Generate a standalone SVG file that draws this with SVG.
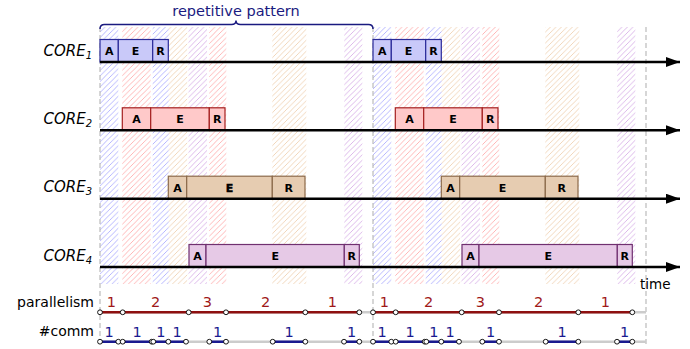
<svg xmlns="http://www.w3.org/2000/svg" width="690" height="349" viewBox="0 0 690 349">
<style>
text{font-family:"DejaVu Sans","Liberation Sans",sans-serif}
.core{font-style:italic;font-size:15px;fill:#000}
.bx{font-size:11px;font-weight:bold;text-anchor:middle;fill:#000}
.c1{fill:#c9c9f9;stroke:#2b2b99;stroke-width:1.2}
.c2{fill:#ffc9c9;stroke:#a52020;stroke-width:1.2}
.c3{fill:#e6ccb1;stroke:#8c6a4a;stroke-width:1.2}
.c4{fill:#e6c9e6;stroke:#703070;stroke-width:1.2}
.ax{stroke:#000;stroke-width:2.5;fill:none}
.dash{stroke:#bbb;stroke-width:1.2;stroke-dasharray:5,3;fill:none}
.track{stroke:#ccc;stroke-width:2.5;fill:none}
.par{stroke:#8e1010;stroke-width:2.5;fill:none}
.com{stroke:#1a1a90;stroke-width:2.5;fill:none}
.pt{fill:#a01818;font-size:14.5px;text-anchor:middle}
.ct{fill:#1a1a90;font-size:14.5px;text-anchor:middle}
.lbl{font-size:14px;fill:#000;text-anchor:end}
.hs{stroke-width:0.6}
circle{fill:#fff;stroke:#000;stroke-width:0.9}
</style>
<defs>
<pattern id="hb" patternUnits="userSpaceOnUse" width="5.5" height="5.5"><path class="hs" d="M-1,1 L1,-1 M0,5.5 L5.5,0 M4.5,6.5 L6.5,4.5" stroke="#8585ff"/></pattern>
<pattern id="hr" patternUnits="userSpaceOnUse" width="5.5" height="5.5"><path class="hs" d="M-1,1 L1,-1 M0,5.5 L5.5,0 M4.5,6.5 L6.5,4.5" stroke="#ff8585"/></pattern>
<pattern id="ht" patternUnits="userSpaceOnUse" width="5.5" height="5.5"><path class="hs" d="M-1,1 L1,-1 M0,5.5 L5.5,0 M4.5,6.5 L6.5,4.5" stroke="#e8bc8e"/></pattern>
<pattern id="hp" patternUnits="userSpaceOnUse" width="5.5" height="5.5"><path class="hs" d="M-1,1 L1,-1 M0,5.5 L5.5,0 M4.5,6.5 L6.5,4.5" stroke="#c488dc"/></pattern>
<marker id="arr" markerUnits="userSpaceOnUse" markerWidth="16" markerHeight="12" refX="14" refY="5" orient="auto"><path d="M0,0 L14,5 L0,10 Z" fill="#000"/></marker>
</defs>

<g id="hatches">
<rect x="100" y="27" width="18.3" height="257" fill="url(#hb)"/>
<rect x="152.7" y="27" width="16" height="257" fill="url(#hb)"/>
<rect x="122.3" y="27" width="28.4" height="257" fill="url(#hr)"/>
<rect x="209.3" y="27" width="17" height="257" fill="url(#hr)"/>
<rect x="168.7" y="27" width="18.5" height="257" fill="url(#ht)"/>
<rect x="272.3" y="27" width="34" height="257" fill="url(#ht)"/>
<rect x="188.5" y="27" width="18.5" height="257" fill="url(#hp)"/>
<rect x="344.3" y="27" width="18" height="257" fill="url(#hp)"/>
<rect x="373" y="27" width="18.3" height="257" fill="url(#hb)"/>
<rect x="425.7" y="27" width="16" height="257" fill="url(#hb)"/>
<rect x="395.3" y="27" width="28.4" height="257" fill="url(#hr)"/>
<rect x="482.3" y="27" width="17" height="257" fill="url(#hr)"/>
<rect x="441.7" y="27" width="18.5" height="257" fill="url(#ht)"/>
<rect x="545.3" y="27" width="34" height="257" fill="url(#ht)"/>
<rect x="461.5" y="27" width="18.5" height="257" fill="url(#hp)"/>
<rect x="617.3" y="27" width="18" height="257" fill="url(#hp)"/>
</g>

<g id="dashes">
<line class="dash" x1="100" y1="27" x2="100" y2="346"/>
<line class="dash" x1="373" y1="27" x2="373" y2="346"/>
<line class="dash" x1="646" y1="27" x2="646" y2="346"/>
</g>

<g id="brace">
<path d="M100,29 Q100,24.5 104.5,24.5 L231.5,24.5 Q236,24.5 236,20.5 Q236,24.5 240.5,24.5 L368.5,24.5 Q373,24.5 373,29" fill="none" stroke="#1a1a80" stroke-width="1.5"/>
<text x="236" y="16" font-size="14.5" fill="#1a1a80" text-anchor="middle">repetitive pattern</text>
</g>

<g id="core1">
<text class="core" x="92" y="56" text-anchor="end">CORE<tspan font-size="10" dy="3">1</tspan></text>
<rect class="c1" x="100" y="39.5" width="18.3" height="22.5"/>
<rect class="c1" x="118.3" y="39.5" width="34.4" height="22.5"/>
<rect class="c1" x="152.7" y="39.5" width="15.6" height="22.5"/>
<text class="bx" x="109.2" y="55">A</text><text class="bx" x="135.5" y="55">E</text><text class="bx" x="160.5" y="55">R</text>
<rect class="c1" x="373" y="39.5" width="18.3" height="22.5"/>
<rect class="c1" x="391.3" y="39.5" width="34.4" height="22.5"/>
<rect class="c1" x="425.7" y="39.5" width="15.6" height="22.5"/>
<text class="bx" x="382.2" y="55">A</text><text class="bx" x="408.5" y="55">E</text><text class="bx" x="433.5" y="55">R</text>
</g>

<g id="core2">
<text class="core" x="92" y="124.3" text-anchor="end">CORE<tspan font-size="10" dy="3">2</tspan></text>
<rect class="c2" x="122.3" y="107.8" width="28.4" height="22.5"/>
<rect class="c2" x="150.7" y="107.8" width="58.6" height="22.5"/>
<rect class="c2" x="209.3" y="107.8" width="15.7" height="22.5"/>
<text class="bx" x="136.5" y="123.3">A</text><text class="bx" x="180" y="123.3">E</text><text class="bx" x="217.2" y="123.3">R</text>
<rect class="c2" x="395.3" y="107.8" width="28.4" height="22.5"/>
<rect class="c2" x="423.7" y="107.8" width="58.6" height="22.5"/>
<rect class="c2" x="482.3" y="107.8" width="15.7" height="22.5"/>
<text class="bx" x="409.5" y="123.3">A</text><text class="bx" x="453" y="123.3">E</text><text class="bx" x="490.2" y="123.3">R</text>
</g>

<g id="core3">
<text class="core" x="92" y="192.3" text-anchor="end">CORE<tspan font-size="10" dy="3">3</tspan></text>
<rect class="c3" x="168.3" y="176.2" width="18.4" height="22.5"/>
<rect class="c3" x="186.7" y="176.2" width="85.6" height="22.5"/>
<rect class="c3" x="272.3" y="176.2" width="32.7" height="22.5"/>
<text class="bx" x="177.5" y="191.7">A</text><text class="bx" x="229.5" y="191.7" stroke="#000" stroke-width="0.4">E</text><text class="bx" x="288.7" y="191.7">R</text>
<rect class="c3" x="441.3" y="176.2" width="18.4" height="22.5"/>
<rect class="c3" x="459.7" y="176.2" width="85.6" height="22.5"/>
<rect class="c3" x="545.3" y="176.2" width="32.7" height="22.5"/>
<text class="bx" x="450.5" y="191.7">A</text><text class="bx" x="502.5" y="191.7">E</text><text class="bx" x="561.7" y="191.7">R</text>
</g>

<g id="core4">
<text class="core" x="92" y="260.6" text-anchor="end">CORE<tspan font-size="10" dy="3">4</tspan></text>
<rect class="c4" x="189" y="244.5" width="17" height="22.5"/>
<rect class="c4" x="206" y="244.5" width="138.3" height="22.5"/>
<rect class="c4" x="344.3" y="244.5" width="15" height="22.5"/>
<text class="bx" x="197.5" y="260">A</text><text class="bx" x="275.2" y="260">E</text><text class="bx" x="351.8" y="260">R</text>
<rect class="c4" x="462" y="244.5" width="17" height="22.5"/>
<rect class="c4" x="479" y="244.5" width="138.3" height="22.5"/>
<rect class="c4" x="617.3" y="244.5" width="15" height="22.5"/>
<text class="bx" x="470.5" y="260">A</text><text class="bx" x="548.2" y="260">E</text><text class="bx" x="624.8" y="260">R</text>
</g>

<g id="connectors">
<line class="ax" x1="100" y1="62" x2="680" y2="62" marker-end="url(#arr)"/>
<line class="ax" x1="100" y1="130.3" x2="680" y2="130.3" marker-end="url(#arr)"/>
<line class="ax" x1="100" y1="198.7" x2="680" y2="198.7" marker-end="url(#arr)"/>
<line class="ax" x1="100" y1="267" x2="680" y2="267" marker-end="url(#arr)"/>
</g>
<text x="640" y="289" font-size="13.5" fill="#000">time</text>

<g id="parallelism">
<text class="lbl" x="94" y="306.5">parallelism</text>
<line class="track" x1="100" y1="312.3" x2="646" y2="312.3"/>
<path class="par" d="M100,312.3 H359.3 M373,312.3 H632.3"/>
<text class="pt" x="111.3" y="307.3">1</text><text class="pt" x="155.7" y="307.3">2</text><text class="pt" x="207.4" y="307.3">3</text><text class="pt" x="265.7" y="307.3">2</text><text class="pt" x="332.3" y="307.3">1</text>
<text class="pt" x="384.3" y="307.3">1</text><text class="pt" x="428.7" y="307.3">2</text><text class="pt" x="480.4" y="307.3">3</text><text class="pt" x="538.7" y="307.3">2</text><text class="pt" x="605.3" y="307.3">1</text>
<circle cx="100" cy="312.3" r="2.4"/><circle cx="122.7" cy="312.3" r="2.4"/><circle cx="188.7" cy="312.3" r="2.4"/><circle cx="226" cy="312.3" r="2.4"/><circle cx="305.3" cy="312.3" r="2.4"/><circle cx="359.3" cy="312.3" r="2.4"/>
<circle cx="373" cy="312.3" r="2.4"/><circle cx="395.7" cy="312.3" r="2.4"/><circle cx="461.7" cy="312.3" r="2.4"/><circle cx="499" cy="312.3" r="2.4"/><circle cx="578.3" cy="312.3" r="2.4"/><circle cx="632.3" cy="312.3" r="2.4"/>
</g>

<g id="comm">
<text class="lbl" x="94" y="336">#comm</text>
<line class="track" x1="100" y1="341.7" x2="646" y2="341.7"/>
<path class="com" d="M100,341.7 H118.3 M122.7,341.7 H151.7 M153.3,341.7 H186 M209.3,341.7 H226 M272.7,341.7 H305.3 M344,341.7 H359.3 M373,341.7 H391.3 M395.7,341.7 H424.7 M426.3,341.7 H459 M482.3,341.7 H499 M545.7,341.7 H578.3 M617,341.7 H632.3"/>
<text class="ct" x="109" y="337.3">1</text><text class="ct" x="137" y="337.3">1</text><text class="ct" x="160.8" y="337.3">1</text><text class="ct" x="177" y="337.3">1</text><text class="ct" x="217.6" y="337.3">1</text><text class="ct" x="289" y="337.3">1</text><text class="ct" x="351.7" y="337.3">1</text>
<text class="ct" x="382" y="337.3">1</text><text class="ct" x="410" y="337.3">1</text><text class="ct" x="433.8" y="337.3">1</text><text class="ct" x="450" y="337.3">1</text><text class="ct" x="490.6" y="337.3">1</text><text class="ct" x="562" y="337.3">1</text><text class="ct" x="624.7" y="337.3">1</text>
<circle cx="100" cy="341.7" r="2.4"/><circle cx="118.3" cy="341.7" r="2.4"/><circle cx="122.7" cy="341.7" r="2.4"/><circle cx="151.7" cy="341.7" r="2.4"/><circle cx="153.3" cy="341.7" r="2.4"/><circle cx="168.3" cy="341.7" r="2.4"/><circle cx="186" cy="341.7" r="2.4"/><circle cx="209.3" cy="341.7" r="2.4"/><circle cx="226" cy="341.7" r="2.4"/><circle cx="272.7" cy="341.7" r="2.4"/><circle cx="305.3" cy="341.7" r="2.4"/><circle cx="344" cy="341.7" r="2.4"/><circle cx="359.3" cy="341.7" r="2.4"/>
<circle cx="373" cy="341.7" r="2.4"/><circle cx="391.3" cy="341.7" r="2.4"/><circle cx="395.7" cy="341.7" r="2.4"/><circle cx="424.7" cy="341.7" r="2.4"/><circle cx="426.3" cy="341.7" r="2.4"/><circle cx="441.3" cy="341.7" r="2.4"/><circle cx="459" cy="341.7" r="2.4"/><circle cx="482.3" cy="341.7" r="2.4"/><circle cx="499" cy="341.7" r="2.4"/><circle cx="545.7" cy="341.7" r="2.4"/><circle cx="578.3" cy="341.7" r="2.4"/><circle cx="617" cy="341.7" r="2.4"/><circle cx="632.3" cy="341.7" r="2.4"/>
</g>
</svg>
